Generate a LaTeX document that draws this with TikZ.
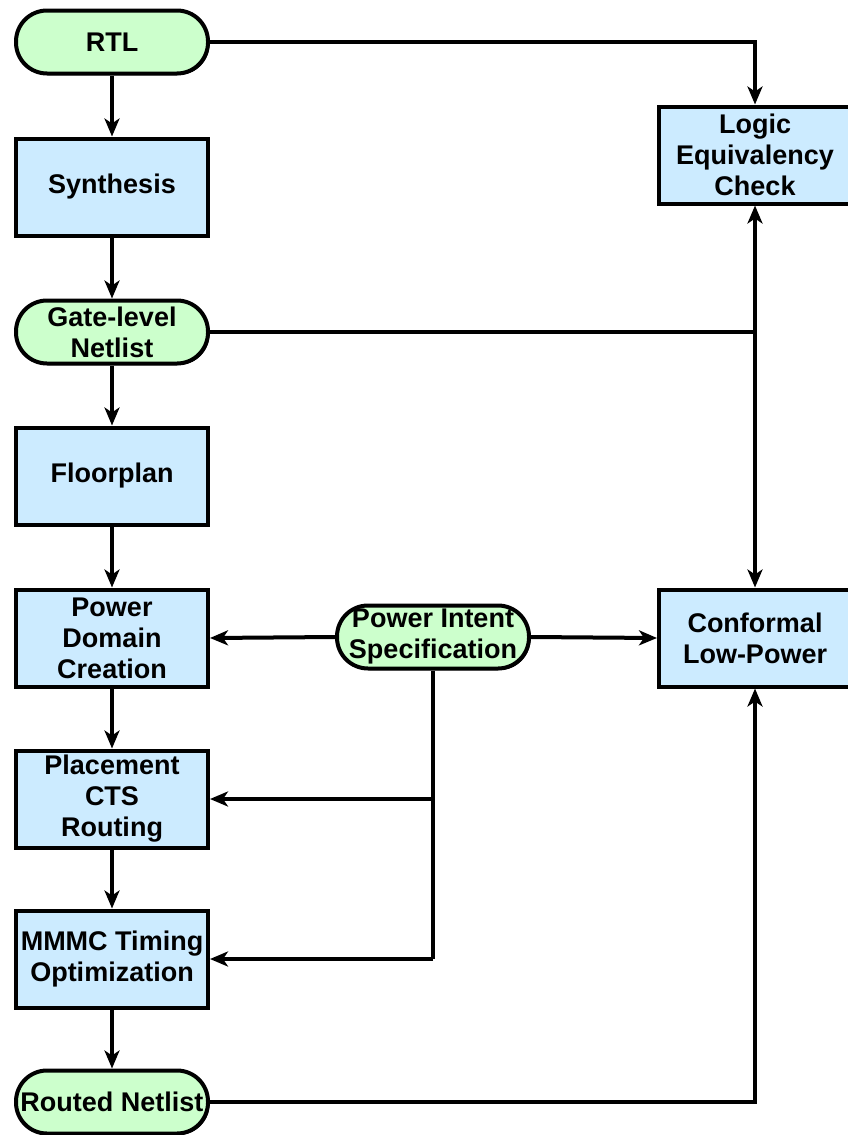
\documentclass[tikz,border=0pt]{standalone}
\usepackage{fontspec}
\setmainfont{Liberation Sans}
\usetikzlibrary{arrows.meta,shadows}

\definecolor{boxblue}{RGB}{204,235,255}
\definecolor{termgreen}{RGB}{204,255,204}

\tikzset{
  blk/.style={draw, line width=4pt, fill=boxblue, minimum width=192pt,
    minimum height=97pt, align=center, font=\bfseries\fontsize{27}{31}\selectfont,
    drop shadow={shadow xshift=1.5pt, shadow yshift=-1.5pt, fill=black, opacity=1}},
  term/.style={blk, fill=termgreen, minimum height=63pt, rounded corners=31pt},
  arr/.style={line width=4pt, -{Stealth[length=18pt,width=15pt,inset=5pt]}},
  wire/.style={line width=4pt}
}

\begin{document}
\begin{tikzpicture}[x=1pt,y=-1pt]
\useasboundingbox (0,0) rectangle (848,1135);
% left column
\node[term] (rtl)   at (112,42)   {RTL};
\node[blk]  (syn)   at (112,187)  {Synthesis};
\node[term] (gln)   at (112,332)  {Gate-level\\Netlist};
\node[blk]  (fp)    at (112,476)  {Floorplan};
\node[blk]  (pdc)   at (112,638)  {Power\\Domain\\Creation};
\node[blk]  (pcr)   at (112,799)  {Placement\\CTS\\Routing};
\node[blk]  (mmmc)  at (112,959)  {MMMC Timing\\Optimization};
\node[term] (rnl)   at (112,1102) {Routed Netlist};
% right column
\node[blk]  (lec)   at (755,155)  {Logic\\Equivalency\\Check};
\node[blk]  (clp)   at (755,638)  {Conformal\\Low-Power};
\node[term] (pis)   at (433,637)  {Power Intent\\Specification};

\draw[arr] (rtl) -- (syn);
\draw[arr] (syn) -- (gln);
\draw[arr] (gln) -- (fp);
\draw[arr] (fp) -- (pdc);
\draw[arr] (pdc) -- (pcr);
\draw[arr] (pcr) -- (mmmc);
\draw[arr] (mmmc) -- (rnl);

\draw[arr] (rtl.east) -| (lec.north);
\coordinate (jn) at (gln.east -| lec.south);
\draw[wire] (gln.east) -- (jn);
\draw[arr] (jn) -- (lec.south);
\draw[arr] (jn) -- (clp.north);

\draw[arr] (pis.west) -- (pdc.east);
\draw[arr] (pis.east) -- (clp.west);
\coordinate (pb) at (pis.south |- mmmc.east);
\draw[wire] (pis.south) -- (pb);
\draw[arr] (pis.south |- pcr.east) -- (pcr.east);
\draw[arr] (pb) -- (mmmc.east);

\draw[arr] (rnl.east) -| (clp.south);
\end{tikzpicture}
\end{document}
